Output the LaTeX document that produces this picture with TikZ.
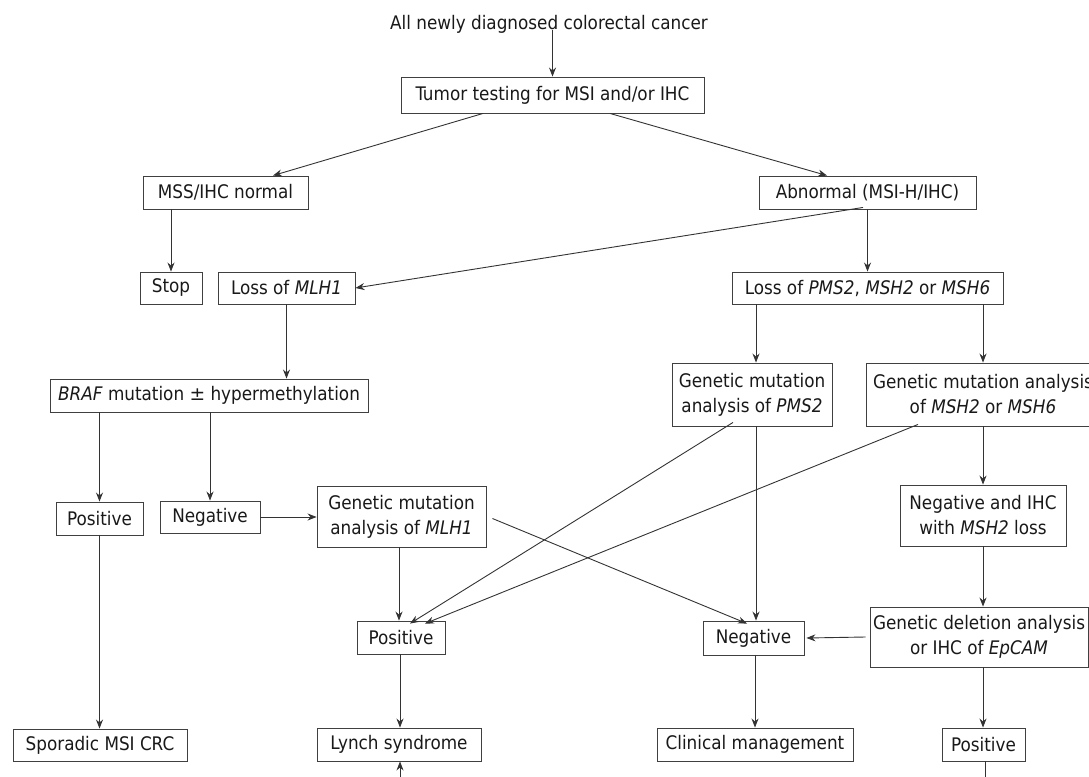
\documentclass[tikz,border=0pt]{standalone}
\usepackage{fontspec}
\setmainfont{DejaVu Sans Condensed}
\usetikzlibrary{arrows.meta}
\tikzset{
  bx/.style={draw=black!75, line width=0.9pt, inner sep=0pt, align=center,
    font=\fontsize{18.7}{25}\selectfont, text=black!90},
  plain/.style={inner sep=0pt, font=\fontsize{18.7}{25}\selectfont, text=black!90},
  arr/.style={draw=black!80, line width=0.9pt, -{Stealth[length=9pt,width=7pt]}},
  ln/.style={draw=black!80, line width=0.9pt},
}
\begin{document}
\begin{tikzpicture}[x=1pt,y=-1pt]
\useasboundingbox (0,0) rectangle (1089,776);
% nodes
\node[plain] (top) at (549,24) {All newly diagnosed colorectal cancer};
\node[bx, minimum width=303pt, minimum height=36pt] (tumor) at (552.5,95) {Tumor testing for MSI and/or IHC};
\node[bx, minimum width=165pt, minimum height=33pt] (mss) at (225.5,192.5) {MSS/IHC normal};
\node[bx, minimum width=217pt, minimum height=33pt] (abn) at (867.5,192.5) {Abnormal (MSI-H/IHC)};
\node[bx, minimum width=62pt, minimum height=32pt] (stop) at (171,288) {Stop};
\node[bx, minimum width=137pt, minimum height=32pt] (lmlh) at (286.5,288) {Loss of \textit{MLH1}};
\node[bx, minimum width=271pt, minimum height=32pt] (lpms) at (867.5,288) {Loss of \textit{PMS2}, \textit{MSH2} or \textit{MSH6}};
\node[bx, minimum width=318pt, minimum height=33pt] (braf) at (209,395.5) {\textit{BRAF} mutation {\fontspec{DejaVu Sans}±} hypermethylation};
\node[bx, minimum width=160pt, minimum height=63pt] (gpms) at (752,394.5) {Genetic mutation\\analysis of \textit{PMS2}};
\node[bx, minimum width=234pt, minimum height=63pt] (gmsh) at (983,394.5) {Genetic mutation analysis\\of \textit{MSH2} or \textit{MSH6}};
\node[bx, minimum width=87pt, minimum height=33pt] (pos1) at (99.5,518.5) {Positive};
\node[bx, minimum width=100pt, minimum height=32pt] (neg1) at (210,517) {Negative};
\node[bx, minimum width=169pt, minimum height=61pt] (gmlh) at (401.5,516.5) {Genetic mutation\\analysis of \textit{MLH1}};
\node[bx, minimum width=166pt, minimum height=61pt] (negihc) at (983,515.5) {Negative and IHC\\with \textit{MSH2} loss};
\node[bx, minimum width=88pt, minimum height=33pt] (posm) at (401,637.5) {Positive};
\node[bx, minimum width=101pt, minimum height=34pt] (negm) at (753.5,638) {Negative};
\node[bx, minimum width=218pt, minimum height=60pt] (epcam) at (979,637) {Genetic deletion analysis\\or IHC of \textit{EpCAM}};
\node[bx, minimum width=174pt, minimum height=32pt] (spor) at (100,745) {Sporadic MSI CRC};
\node[bx, minimum width=164pt, minimum height=33pt] (lynch) at (399,744.5) {Lynch syndrome};
\node[bx, minimum width=196pt, minimum height=33pt] (clin) at (755,744.5) {Clinical management};
\node[bx, minimum width=83pt, minimum height=33pt] (pos2) at (983.5,744.5) {Positive};
\coordinate (lyin) at (400,780);
\coordinate (posout) at (985,780);
% connectors
\draw[arr] ([yshift=3pt]top.south -| tumor.north) -- (tumor.north);
\draw[arr] ([xshift=-69.5pt]tumor.south) -- ([xshift=47.5pt]mss.north);
\draw[arr] ([xshift=57.5pt]tumor.south) -- ([xshift=-40.5pt]abn.north);
\draw[arr] (stop.north |- mss.south) -- (stop.north);
\draw[arr] ([xshift=-4.5pt,yshift=2pt]abn.south) -- (lmlh.east);
\draw[arr] (abn.south) -- (lpms.north);
\draw[arr] (lmlh.south) -- (lmlh.south |- braf.north);
\draw[arr] (pos1.north |- braf.south) -- (pos1.north);
\draw[arr] (neg1.north |- braf.south) -- (neg1.north);
\draw[arr] (neg1.east) -- (gmlh.west |- neg1.east);
\draw[arr] (pos1.south) -- (pos1.south |- spor.north);
\draw[arr] ([xshift=-111.5pt]lpms.south) -- ([xshift=-111.5pt]lpms.south |- gpms.north);
\draw[arr] ([xshift=115.5pt]lpms.south) -- ([xshift=115.5pt]lpms.south |- gmsh.north);
\draw[arr] ([xshift=-19pt,yshift=4pt]gpms.south) -- ([xshift=9pt,yshift=-3pt]posm.north);
\draw[arr] ([xshift=4pt]gpms.south) -- ([xshift=4pt]gpms.south |- negm.north);
\draw[arr] ([xshift=-65pt,yshift=2pt]gmsh.south) -- ([xshift=24pt,yshift=-3pt]posm.north);
\draw[arr] (gmsh.south) -- (negihc.north);
\draw[arr] ([xshift=-2.5pt]gmlh.south) -- ([xshift=-2.5pt]gmlh.south |- posm.north);
\draw[arr] ([xshift=6pt,yshift=-2pt]gmlh.east) -- ([xshift=-6.5pt,yshift=-3pt]negm.north);
\draw[arr] (negihc.south) -- (negihc.south |- epcam.north);
\draw[arr] ([xshift=-4pt]epcam.west) -- ([xshift=2pt]negm.east);
\draw[arr] ([xshift=1.5pt]negm.south) -- ([xshift=1.5pt]negm.south |- clin.north);
\draw[arr] ([xshift=-1pt]posm.south) -- ([xshift=-1pt]posm.south |- lynch.north);
\draw[arr] (negihc.south |- epcam.south) -- (negihc.south |- pos2.north);
\draw[ln] ([xshift=1.5pt]pos2.south) -- (posout);
\draw[arr] (lyin) -- (lynch.south -| lyin);
\end{tikzpicture}
\end{document}
